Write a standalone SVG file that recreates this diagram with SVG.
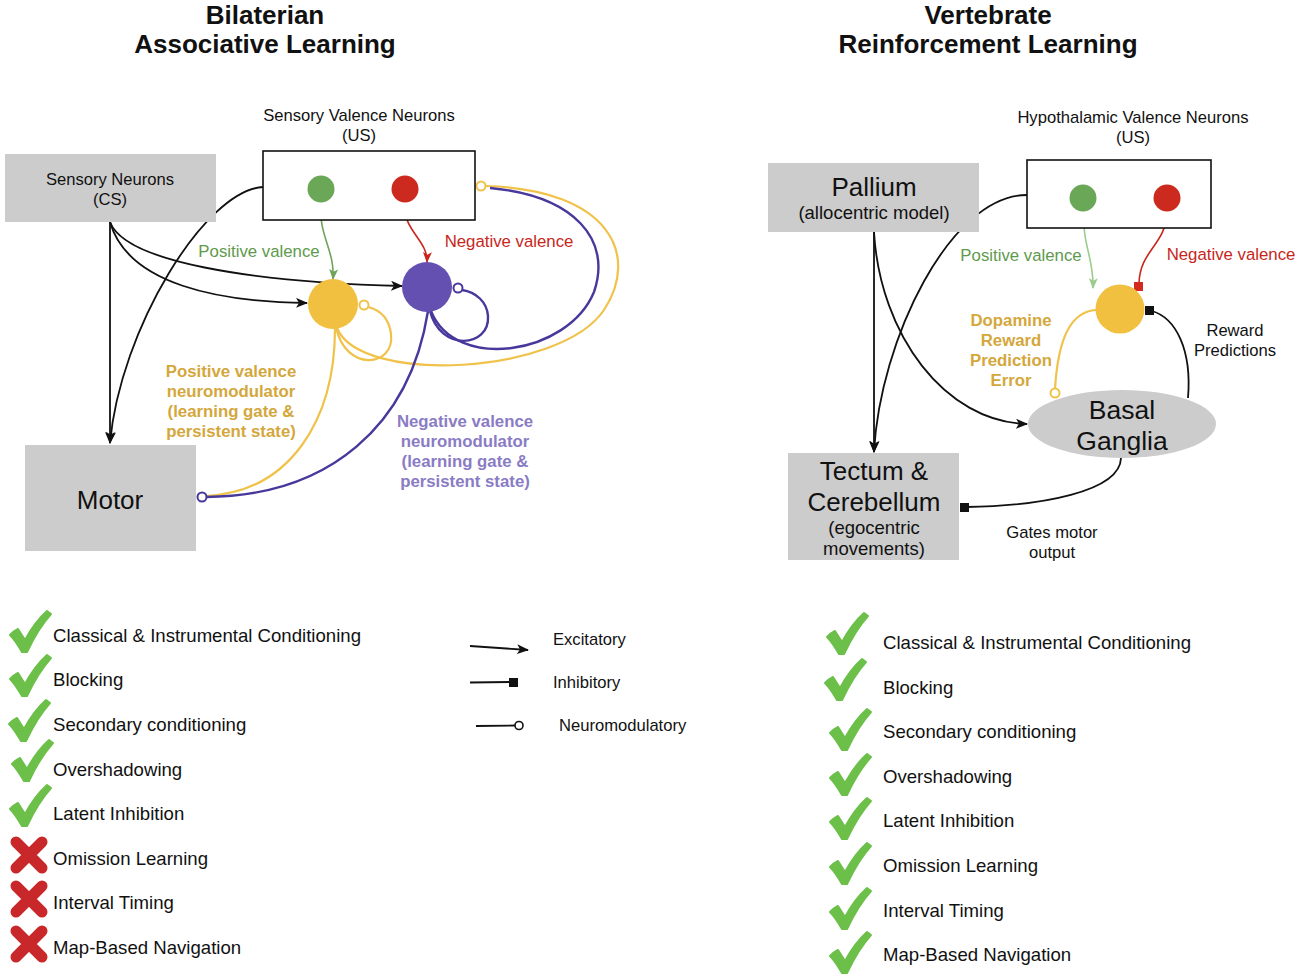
<svg xmlns="http://www.w3.org/2000/svg" width="1300" height="978" viewBox="0 0 1300 978">
<defs>
<style>
text{font-family:"Liberation Sans",Arial,sans-serif;fill:#111;}
.title{font-size:26px;font-weight:bold;text-anchor:middle;}
.lbl{font-size:16.6px;text-anchor:middle;}
.item{font-size:18.6px;}
.box{fill:#cccccc;}
.vbox{fill:#fff;stroke:#111;stroke-width:1.6;}
.blk{fill:none;stroke:#111;stroke-width:1.8;}
.yel{fill:none;stroke:#f0c24a;stroke-width:2.2;}
.pur{fill:none;stroke:#48389c;stroke-width:2.4;}
.gold{fill:#d4a73c;font-weight:bold;font-size:16.8px;text-anchor:middle;}
.lav{fill:#8a7cc4;font-weight:bold;font-size:16.8px;text-anchor:middle;}
.gtxt{fill:#5e9a4c;font-size:16.8px;text-anchor:middle;}
.rtxt{fill:#c8261c;font-size:16.8px;text-anchor:middle;}
</style>
<marker id="arr" viewBox="0 0 12 10" refX="11" refY="5" markerWidth="12" markerHeight="10" markerUnits="userSpaceOnUse" orient="auto">
<path d="M0,0 L12,5 L0,10 L3,5 Z" fill="#111"/>
</marker>
<marker id="arrG" viewBox="0 0 12 10" refX="11" refY="5" markerWidth="11" markerHeight="9" markerUnits="userSpaceOnUse" orient="auto">
<path d="M0,0 L12,5 L0,10 L3,5 Z" fill="#6ea45a"/>
</marker>
<marker id="arrG2" viewBox="0 0 12 10" refX="11" refY="5" markerWidth="11" markerHeight="9" markerUnits="userSpaceOnUse" orient="auto">
<path d="M0,0 L12,5 L0,10 L3,5 Z" fill="#9ccc8c"/>
</marker>
<marker id="arrR" viewBox="0 0 12 10" refX="11" refY="5" markerWidth="11" markerHeight="9" markerUnits="userSpaceOnUse" orient="auto">
<path d="M0,0 L12,5 L0,10 L3,5 Z" fill="#c8261c"/>
</marker>
<path id="check" d="M0,24 C3,21 6,19 8,18 L15,29 C21,18 28,8 37,0 L41,3 C32,13 24,26 17,41 L12,41 C8,34 4,28 0,24 Z" fill="#6cc04a" stroke="#6cc04a" stroke-width="2" stroke-linejoin="round"/>
<g id="cross"><path d="M4,4 L30,30 M30,4 L4,30" stroke="#c8282a" stroke-width="11" stroke-linecap="round"/></g>
</defs>

<rect width="1300" height="978" fill="#fff"/>

<!-- titles -->
<text class="title" x="265" y="24">Bilaterian</text>
<text class="title" x="265" y="53">Associative Learning</text>
<text class="title" x="988" y="24">Vertebrate</text>
<text class="title" x="988" y="53">Reinforcement Learning</text>

<!-- connectors -->
<g id="connectors">
<!-- left: black -->
<path class="blk" d="M263,187 C205,190 120,330 110,443" marker-end="url(#arr)"/>
<path class="blk" d="M110,222 L110,443" marker-end="url(#arr)"/>
<path class="blk" d="M110,222 C125,262 250,282 402,286" marker-end="url(#arr)"/>
<path class="blk" d="M110,222 C128,285 220,302 307,303" marker-end="url(#arr)"/>
<!-- left: valence -->
<path d="M321,203 C318,235 335,250 333,279" fill="none" stroke="#6ea45a" stroke-width="1.6" marker-end="url(#arrG)"/>
<path d="M405,203 C402,230 428,240 427,262" fill="none" stroke="#c8261c" stroke-width="1.6" marker-end="url(#arrR)"/>
<!-- left: yellow -->
<path class="yel" d="M335,328 C335,420 290,492 206,496"/>
<path class="yel" d="M336,327 C345,372 395,368 391,334 C389,318 380,310 368,307"/>
<path class="yel" d="M337,328 C360,385 560,375 604,310 C640,255 610,190 486,186"/>
<!-- left: purple -->
<path class="pur" d="M428,311 C410,425 330,496 206,497"/>
<path class="pur" d="M430,311 C440,352 490,348 488,316 C487,302 476,292 462,290"/>
<path class="pur" d="M431,311 C455,372 568,355 594,292 C612,240 575,196 490,188"/>
<circle cx="481" cy="186" r="4.5" fill="#fff" stroke="#f0c24a" stroke-width="2"/>
<circle cx="364" cy="305" r="4.5" fill="#fff" stroke="#f0c24a" stroke-width="2"/>
<circle cx="458" cy="288" r="4.5" fill="#fff" stroke="#48389c" stroke-width="2"/>
<circle cx="202" cy="497" r="4.5" fill="#fff" stroke="#48389c" stroke-width="2"/>

<!-- right: black -->
<path class="blk" d="M874,232 L874,452" marker-end="url(#arr)"/>
<path class="blk" d="M1027,195 C950,195 880,340 874,452" marker-end="url(#arr)"/>
<path class="blk" d="M874,232 C880,335 945,422 1027,424" marker-end="url(#arr)"/>
<path class="blk" d="M1188,398 C1192,350 1176,318 1152,311"/>
<rect x="1145" y="306" width="9" height="9" fill="#111"/>
<path class="blk" d="M1121,458 C1120,492 1040,506 966,507"/>
<rect x="960" y="503" width="9" height="9" fill="#111"/>
<!-- right: valence -->
<path d="M1084,212 C1082,245 1094,258 1093,288" fill="none" stroke="#9ccc8c" stroke-width="1.6" marker-end="url(#arrG2)"/>
<path d="M1167,212 C1166,245 1140,250 1139,283" fill="none" stroke="#c8261c" stroke-width="1.6"/>
<rect x="1134" y="282" width="9" height="9" fill="#d42a1e"/>
<!-- right: yellow -->
<path class="yel" d="M1098,310 C1070,310 1058,340 1055,389"/>
<circle cx="1055" cy="393" r="4.5" fill="#fff" stroke="#f0c24a" stroke-width="2"/>
</g>

<!-- left nodes -->
<g id="sensory-neurons">
<rect class="box" x="5" y="154" width="211" height="68"/>
<text class="lbl" x="110" y="185">Sensory Neurons</text>
<text class="lbl" x="110" y="205">(CS)</text>
</g>
<g id="sensory-valence">
<text class="lbl" x="359" y="121">Sensory Valence Neurons</text>
<text class="lbl" x="359" y="141">(US)</text>
<rect class="vbox" x="263" y="151" width="212" height="69"/>
<circle cx="321" cy="189" r="13.5" fill="#6aa858"/>
<circle cx="405" cy="189" r="13.5" fill="#cc2a1e"/>
</g>
<g id="pos-neuromod">
<circle cx="333" cy="304" r="25" fill="#f2c040"/>
</g>
<g id="neg-neuromod">
<circle cx="427" cy="287" r="25" fill="#6450b0"/>
</g>
<g id="motor">
<rect class="box" x="25" y="445" width="171" height="106"/>
<text x="110" y="509" style="font-size:26px;text-anchor:middle">Motor</text>
</g>
<g id="left-labels">
<text class="gtxt" x="259" y="257">Positive valence</text>
<text class="rtxt" x="509" y="247">Negative valence</text>
<text class="gold" x="231" y="377">Positive valence</text>
<text class="gold" x="231" y="397">neuromodulator</text>
<text class="gold" x="231" y="417">(learning gate &amp;</text>
<text class="gold" x="231" y="437">persistent state)</text>
<text class="lav" x="465" y="427">Negative valence</text>
<text class="lav" x="465" y="447">neuromodulator</text>
<text class="lav" x="465" y="467">(learning gate &amp;</text>
<text class="lav" x="465" y="487">persistent state)</text>
</g>

<!-- right nodes -->
<g id="pallium">
<rect class="box" x="768" y="163" width="211" height="69"/>
<text x="874" y="196" style="font-size:26px;text-anchor:middle">Pallium</text>
<text x="874" y="219" style="font-size:18.5px;text-anchor:middle">(allocentric model)</text>
</g>
<g id="hypothalamic-valence">
<text class="lbl" x="1133" y="123">Hypothalamic Valence Neurons</text>
<text class="lbl" x="1133" y="143">(US)</text>
<rect class="vbox" x="1027" y="160" width="184" height="68"/>
<circle cx="1083" cy="198" r="13.5" fill="#6aa858"/>
<circle cx="1167" cy="198" r="13.5" fill="#cc2a1e"/>
</g>
<g id="dopamine">
<circle cx="1120" cy="309" r="24.5" fill="#f2c040"/>
</g>
<g id="basal-ganglia">
<ellipse cx="1122" cy="424" rx="94" ry="34" fill="#cccccc"/>
<text x="1122" y="419" style="font-size:26.5px;text-anchor:middle">Basal</text>
<text x="1122" y="450" style="font-size:26.5px;text-anchor:middle">Ganglia</text>
</g>
<g id="tectum">
<rect class="box" x="788" y="453" width="171" height="107"/>
<text x="874" y="480" style="font-size:26px;text-anchor:middle">Tectum &amp;</text>
<text x="874" y="511" style="font-size:26px;text-anchor:middle">Cerebellum</text>
<text x="874" y="534" style="font-size:18.5px;text-anchor:middle">(egocentric</text>
<text x="874" y="555" style="font-size:18.5px;text-anchor:middle">movements)</text>
</g>
<g id="right-labels">
<text class="gtxt" x="1021" y="261">Positive valence</text>
<text class="rtxt" x="1231" y="260">Negative valence</text>
<text class="gold" x="1011" y="326">Dopamine</text>
<text class="gold" x="1011" y="346">Reward</text>
<text class="gold" x="1011" y="366">Prediction</text>
<text class="gold" x="1011" y="386">Error</text>
<text class="lbl" x="1235" y="336">Reward</text>
<text class="lbl" x="1235" y="356">Predictions</text>
<text class="lbl" x="1052" y="538">Gates motor</text>
<text class="lbl" x="1052" y="558">output</text>
</g>

<!-- legend -->
<g id="legend">
<path d="M470,646 L528,650" class="blk" marker-end="url(#arr)"/>
<text class="lbl" x="553" y="645" style="text-anchor:start">Excitatory</text>
<path d="M470,682.5 L510,682" class="blk"/>
<rect x="509" y="678" width="9" height="9" fill="#111"/>
<text class="lbl" x="553" y="688" style="text-anchor:start">Inhibitory</text>
<path d="M476,726 L515,725.5" class="blk"/>
<circle cx="519" cy="725.5" r="4" fill="#fff" stroke="#111" stroke-width="1.6"/>
<text class="lbl" x="559" y="731" style="text-anchor:start">Neuromodulatory</text>
</g>

<!-- left checklist -->
<g id="left-list">
<use href="#check" x="10" y="611"/>
<text class="item" x="53" y="642">Classical &amp; Instrumental Conditioning</text>
<use href="#check" x="10" y="655"/>
<text class="item" x="53" y="686">Blocking</text>
<use href="#check" x="9" y="700"/>
<text class="item" x="53" y="731">Secondary conditioning</text>
<use href="#check" x="12" y="740"/>
<text class="item" x="53" y="776">Overshadowing</text>
<use href="#check" x="10" y="785"/>
<text class="item" x="53" y="820">Latent Inhibition</text>
<use href="#cross" x="12" y="838"/>
<text class="item" x="53" y="865">Omission Learning</text>
<use href="#cross" x="12" y="882"/>
<text class="item" x="53" y="909">Interval Timing</text>
<use href="#cross" x="12" y="927"/>
<text class="item" x="53" y="954">Map-Based Navigation</text>
</g>

<!-- right checklist -->
<g id="right-list">
<use href="#check" x="827" y="613"/>
<text class="item" x="883" y="649">Classical &amp; Instrumental Conditioning</text>
<use href="#check" x="825" y="659"/>
<text class="item" x="883" y="694">Blocking</text>
<use href="#check" x="830" y="709"/>
<text class="item" x="883" y="738">Secondary conditioning</text>
<use href="#check" x="830" y="754"/>
<text class="item" x="883" y="783">Overshadowing</text>
<use href="#check" x="830" y="798"/>
<text class="item" x="883" y="827">Latent Inhibition</text>
<use href="#check" x="830" y="843"/>
<text class="item" x="883" y="872">Omission Learning</text>
<use href="#check" x="830" y="888"/>
<text class="item" x="883" y="917">Interval Timing</text>
<use href="#check" x="830" y="932"/>
<text class="item" x="883" y="961">Map-Based Navigation</text>
</g>
</svg>
